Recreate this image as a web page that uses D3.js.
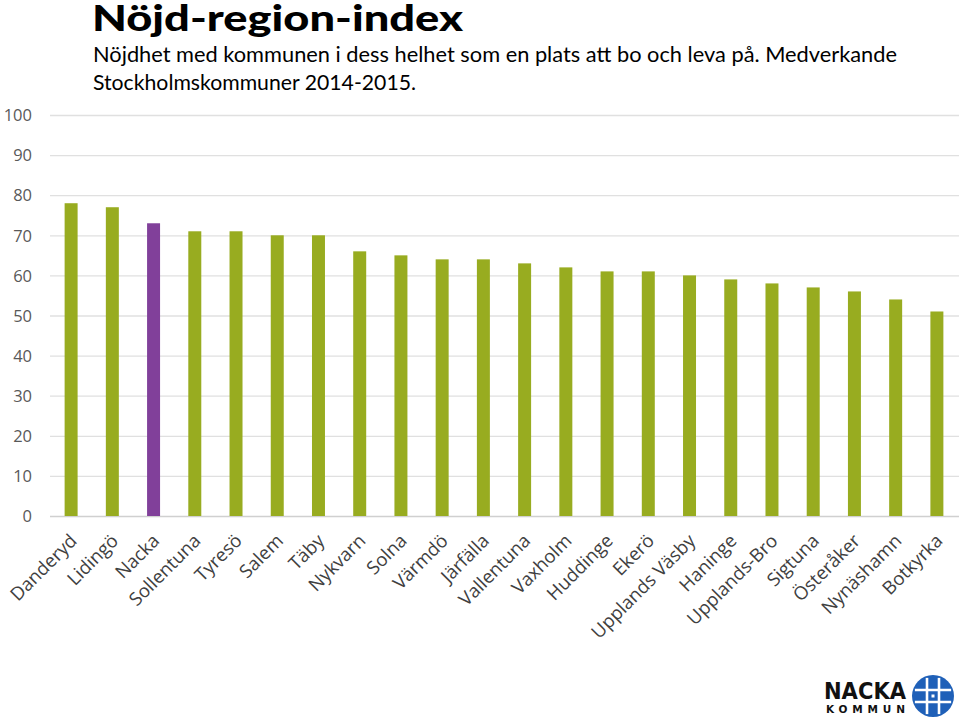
<!DOCTYPE html>
<html><head><meta charset="utf-8">
<script src="https://cdn.jsdelivr.net/npm/d3@7"></script>
<style>body{margin:0;background:#fff}svg{display:block}</style>
</head><body>
<script>
const categories = ["Danderyd","Lidingö","Nacka","Sollentuna","Tyresö","Salem","Täby","Nykvarn","Solna","Värmdö","Järfälla","Vallentuna","Vaxholm","Huddinge","Ekerö","Upplands Väsby","Haninge","Upplands-Bro","Sigtuna","Österåker","Nynäshamn","Botkyrka"];
const values = [78,77,73,71,71,70,70,66,65,64,64,63,62,61,61,60,59,58,57,56,54,51];
const highlight = "Nacka";
const yTicks = [0,10,20,30,40,50,60,70,80,90,100];
const title = "Nöjd-region-index";
const subtitle = ["Nöjdhet med kommunen i dess helhet som en plats att bo och leva på. Medverkande","Stockholmskommuner 2014-2015."];

const W = 959, H = 722;
const svg = d3.select("body").append("svg").attr("width", W).attr("height", H);

const x = d3.scaleBand().domain(categories).range([50.5, 957.5]).paddingInner(0.685).paddingOuter(0.3425);
const y = d3.scaleLinear().domain([0,100]).range([516, 115]);

// gridlines
svg.append("g").selectAll("line").data(yTicks).join("line")
  .attr("x1", 50).attr("x2", 959)
  .attr("y1", d => y(d)+0.5).attr("y2", d => y(d)+0.5)
  .attr("stroke", d => d===0 ? "#d0d0d0" : "#e0e0e0").attr("stroke-width", 1.3);

// y tick labels
const yAxis = d3.axisLeft(y).tickValues(yTicks).tickSize(0).tickPadding(0);
const gy = svg.append("g").attr("transform", "translate(32,0)").call(yAxis);
gy.select(".domain").remove();
gy.selectAll("text").attr("font-family", "'Open Sans', sans-serif").attr("font-size", 16.5)
  .attr("fill", "#595959").attr("dy", "0.35em");

// bars
svg.append("g").selectAll("rect").data(categories).join("rect")
  .attr("x", d => x(d)).attr("width", x.bandwidth())
  .attr("y", (d,i) => y(values[i])).attr("height", (d,i) => y(0) - y(values[i]))
  .attr("fill", d => d === highlight ? "#81409a" : "#98ac20");

// x labels
const xAxis = d3.axisBottom(x).tickSize(0).tickPadding(0);
const gx = svg.append("g").attr("transform", "translate(0,516)").call(xAxis);
gx.select(".domain").remove();
gx.selectAll("text")
  .attr("font-family", "'Open Sans', sans-serif").attr("font-size", 18.5).attr("fill", "#404040")
  .attr("text-anchor", "end").attr("dy", 0).attr("y", 0)
  .attr("transform", "translate(7,26) rotate(-45)");

// title
svg.append("text").attr("x", 92).attr("y", 31).text(title)
  .attr("font-family", "Lato, sans-serif").attr("font-weight", 900).attr("font-size", 36.5)
  .attr("textLength", 371).attr("lengthAdjust", "spacingAndGlyphs").attr("fill", "#000");
const subLen = [804, 323];
svg.append("g").selectAll("text").data(subtitle).join("text")
  .attr("x", 93).attr("y", (d,i) => 62 + i*28).text(d => d)
  .attr("textLength", (d,i) => subLen[i]).attr("lengthAdjust", "spacingAndGlyphs")
  .attr("font-family", "Lato, sans-serif").attr("font-size", 21.5).attr("fill", "#000");

// logo
const logo = svg.append("g");
logo.append("text").attr("x", 824).attr("y", 699).text("NACKA")
  .attr("font-family", "'DejaVu Sans', sans-serif").attr("font-weight", "bold").attr("font-size", 23)
  .attr("textLength", 82).attr("lengthAdjust", "spacingAndGlyphs").attr("fill", "#111");
logo.append("text").attr("x", 826).attr("y", 713).text("KOMMUN")
  .attr("font-family", "'DejaVu Sans', sans-serif").attr("font-weight", "bold").attr("font-size", 10.5)
  .attr("textLength", 79).attr("fill", "#111");
const cx = 933, cy = 696, r = 21;
logo.append("circle").attr("cx", cx).attr("cy", cy).attr("r", r).attr("fill", "#1f60b8");
[-6, 6].forEach(o => {
  logo.append("line").attr("x1", cx+o).attr("x2", cx+o).attr("y1", cy-Math.sqrt(r*r-o*o)+2).attr("y2", cy+Math.sqrt(r*r-o*o)-2).attr("stroke", "#fff").attr("stroke-width", 2.6);
  logo.append("line").attr("y1", cy+o).attr("y2", cy+o).attr("x1", cx-Math.sqrt(r*r-o*o)+2).attr("x2", cx+Math.sqrt(r*r-o*o)-2).attr("stroke", "#fff").attr("stroke-width", 2.6);
});
logo.append("rect").attr("x", cx-1.5).attr("y", cy-1.5).attr("width", 3).attr("height", 3).attr("fill", "#fff");
</script>
</body></html>
